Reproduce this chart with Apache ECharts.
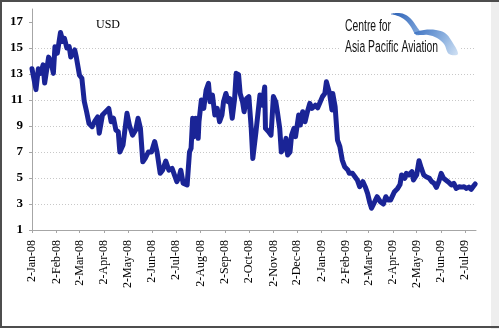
<!DOCTYPE html>
<html>
<head>
<meta charset="utf-8">
<script src="https://cdn.jsdelivr.net/npm/echarts@6/dist/echarts.min.js"></script>
<style>
  html, body { margin: 0; padding: 0; background: #ffffff; }
  #chart { width: 499px; height: 329px; }
</style>
</head>
<body>
<div id="chart"></div>
<script>
// Trading dates and prices (USD)
const dates = [
  '2008-01-02','2008-01-04','2008-01-07','2008-01-10','2008-01-13','2008-01-16','2008-01-18','2008-01-20',
  '2008-01-23','2008-01-26','2008-01-29','2008-01-31','2008-02-03','2008-02-07','2008-02-10','2008-02-12',
  '2008-02-15','2008-02-18','2008-02-20','2008-02-25','2008-02-27','2008-03-02','2008-03-05','2008-03-08',
  '2008-03-11','2008-03-14','2008-03-18','2008-03-21','2008-03-25','2008-03-27','2008-03-31','2008-04-04',
  '2008-04-08','2008-04-11','2008-04-14','2008-04-17','2008-04-20','2008-04-22','2008-04-26','2008-05-01',
  '2008-05-04','2008-05-08','2008-05-12','2008-05-15','2008-05-18','2008-05-21','2008-05-24','2008-05-28',
  '2008-06-01','2008-06-05','2008-06-08','2008-06-12','2008-06-15','2008-06-19','2008-06-23','2008-06-27',
  '2008-07-03','2008-07-06','2008-07-08','2008-07-11','2008-07-16','2008-07-19','2008-07-21','2008-07-23',
  '2008-07-25','2008-07-27','2008-07-30','2008-07-31','2008-08-03','2008-08-06','2008-08-09','2008-08-12',
  '2008-08-14','2008-08-17','2008-08-20','2008-08-23','2008-08-26','2008-08-29','2008-08-31','2008-09-03',
  '2008-09-06','2008-09-08','2008-09-11','2008-09-14','2008-09-16','2008-09-19','2008-09-21','2008-09-24',
  '2008-09-26','2008-09-29','2008-10-02','2008-10-05','2008-10-07','2008-10-11','2008-10-13','2008-10-16',
  '2008-10-19','2008-10-22','2008-10-23','2008-10-27','2008-10-30','2008-11-02','2008-11-05','2008-11-07',
  '2008-11-10','2008-11-12','2008-11-15','2008-11-18','2008-11-20','2008-11-23','2008-11-25','2008-11-28',
  '2008-11-30','2008-12-04','2008-12-06','2008-12-09','2008-12-12','2008-12-15','2008-12-18','2008-12-21',
  '2008-12-25','2008-12-28','2008-12-31','2009-01-03','2009-01-06','2009-01-08','2009-01-12','2009-01-15',
  '2009-01-16','2009-01-19','2009-01-22','2009-01-25','2009-01-28','2009-01-31','2009-02-04','2009-02-06',
  '2009-02-10','2009-02-13','2009-02-16','2009-02-19','2009-02-23','2009-02-26','2009-03-01','2009-03-04',
  '2009-03-06','2009-03-09','2009-03-13','2009-03-17','2009-03-21','2009-03-24','2009-03-27','2009-03-30',
  '2009-04-04','2009-04-08','2009-04-11','2009-04-13','2009-04-17','2009-04-19','2009-04-22','2009-04-26',
  '2009-04-28','2009-05-02','2009-05-05','2009-05-08','2009-05-11','2009-05-14','2009-05-18','2009-05-21',
  '2009-05-24','2009-05-27','2009-05-30','2009-06-02','2009-06-05','2009-06-09','2009-06-12','2009-06-15',
  '2009-06-18','2009-06-21','2009-06-25','2009-06-28','2009-07-01','2009-07-04','2009-07-07','2009-07-10',
  '2009-07-13','2009-07-15'
];
const prices = [
  13.4, 13.3, 11.8, 13.4, 13.05, 13.7, 12.3, 12.3,
  14.3, 13.95, 13.05, 15.1, 14.6, 16.2, 15.5, 15.75,
  15.0, 15.1, 14.3, 14.85, 14.3, 12.9, 12.67, 10.9,
  10.1, 9.2, 8.95, 9.33, 9.7, 8.45, 9.85, 10.1,
  10.35, 9.33, 9.6, 8.7, 8.56, 7.0, 7.54, 9.98,
  9.08, 8.3, 8.7, 9.6, 8.82, 6.25, 6.51, 7.0,
  7.0, 7.8, 7.0, 5.36, 5.6, 6.3, 5.6, 5.74,
  4.72, 5.1, 5.6, 4.6, 4.46, 7.0, 7.28, 9.6,
  8.18, 9.6, 8.05, 9.35, 11.0, 10.36, 11.77, 12.28,
  10.87, 11.38, 9.85, 10.36, 9.33, 9.85, 10.87, 11.5,
  10.87, 11.1, 9.6, 11.1, 13.05, 12.95, 11.5, 10.87,
  10.1, 11.1, 11.26, 8.82, 6.5, 8.56, 8.7, 11.38,
  10.6, 12.0, 8.82, 8.56, 8.3, 11.26, 10.87, 10.1,
  8.82, 7.0, 7.28, 8.05, 6.77, 7.0, 8.3, 8.82,
  8.18, 9.85, 9.08, 10.1, 9.33, 10.1, 10.74, 10.36,
  10.6, 10.4, 10.82, 11.26, 11.5, 12.4, 11.5, 10.23,
  11.5, 10.49, 7.92, 7.41, 6.38, 5.87, 5.62, 5.36,
  5.36, 5.1, 4.85, 4.33, 4.72, 4.33, 3.82, 3.05,
  2.67, 3.05, 3.56, 3.18, 3.0, 3.56, 3.3, 3.3,
  3.95, 4.2, 4.5, 5.23, 4.98, 5.36, 5.23, 5.49,
  4.85, 5.23, 6.33, 5.74, 5.23, 5.1, 4.98, 4.72,
  4.59, 4.28, 4.72, 5.36, 4.98, 4.79, 4.64, 4.46,
  4.59, 4.2, 4.33, 4.3, 4.33, 4.2, 4.3, 4.13,
  4.38, 4.54
];

// Monthly ticks on the date axis
const tickDates = [
  '2008-01-02','2008-02-02','2008-03-02','2008-04-02','2008-05-02','2008-06-02','2008-07-02',
  '2008-08-02','2008-09-02','2008-10-02','2008-11-02','2008-12-02','2009-01-02','2009-02-02',
  '2009-03-02','2009-04-02','2009-05-02','2009-06-02','2009-07-02'
];
const tickLabels = [
  '2-Jan-08','2-Feb-08','2-Mar-08','2-Apr-08','2-May-08','2-Jun-08','2-Jul-08',
  '2-Aug-08','2-Sep-08','2-Oct-08','2-Nov-08','2-Dec-08','2-Jan-09','2-Feb-09',
  '2-Mar-09','2-Apr-09','2-May-09','2-Jun-09','2-Jul-09'
];
const yTicks = [1, 3, 5, 7, 9, 11, 13, 15, 17];

const toTime = s => +new Date(s + 'T00:00:00');
const tickTimes = tickDates.map(toTime);
const seriesData = dates.map((d, i) => [toTime(d), prices[i]]);

const chart = echarts.init(document.getElementById('chart'), null, { renderer: 'canvas' });

const serif = "'Liberation Serif', 'Times New Roman', serif";
const logoFont = "14px 'Liberation Sans', Arial, sans-serif";

chart.setOption({
  animation: false,
  backgroundColor: '#ffffff',
  grid: { left: 32, right: 23, top: 9, bottom: 99, containLabel: false },
  xAxis: {
    type: 'value',
    min: toTime('2008-01-02'),
    max: toTime('2009-07-16'),
    axisLine: { show: true, lineStyle: { color: '#a6a6a6', width: 1 } },
    axisTick: { show: true, length: 3, customValues: tickTimes, lineStyle: { color: '#a6a6a6' } },
    axisLabel: {
      customValues: tickTimes,
      rotate: 90,
      margin: 10,
      fontFamily: serif,
      fontSize: 12,
      color: '#000',
      hideOverlap: false,
      formatter: function (val) {
        let idx = -1;
        for (let i = 0; i < tickTimes.length; i++) {
          if (Math.abs(tickTimes[i] - val) < 3600000) { idx = i; break; }
        }
        return idx >= 0 ? tickLabels[idx] : '';
      }
    },
    splitLine: { show: false }
  },
  yAxis: {
    type: 'value',
    min: 1,
    max: 18,
    interval: 2,
    axisLine: { show: true, lineStyle: { color: '#a6a6a6', width: 1 } },
    axisTick: { show: true, length: 3, customValues: yTicks, lineStyle: { color: '#a6a6a6' } },
    axisLabel: {
      customValues: yTicks,
      margin: 9,
      fontFamily: serif,
      fontSize: 13,
      fontWeight: 'bold',
      color: '#000'
    },
    splitLine: {
      show: true,
      showMinLine: false,
      showMaxLine: false,
      lineStyle: { color: '#c8c8c8', type: [1, 2], width: 1 }
    }
  },
  graphic: [
    // light strip at the right edge
    {
      type: 'rect', z: 99, silent: true,
      shape: { x: 491, y: 0, width: 8, height: 329 },
      style: { fill: '#eeeeee' }
    },
    // outer frame: top, left, bottom
    {
      type: 'polyline', z: 100, silent: true,
      shape: { points: [[499, 1], [1, 1], [1, 327], [499, 327]] },
      style: { fill: null, stroke: '#4d4d4d', lineWidth: 2 }
    },
    // currency caption
    {
      type: 'text', x: 96, y: 19, z: 20,
      style: { text: 'USD', font: "12px 'Liberation Serif', serif", fill: '#000' }
    },
    // logo backdrop
    {
      type: 'rect', z: 15, silent: true,
      shape: { x: 341, y: 12, width: 118, height: 44 },
      style: { fill: '#ffffff' }
    },
    // logo swoosh, upper wing
    {
      type: 'polygon', z: 16, silent: true,
      shape: {
        smooth: 0.35,
        points: [
          [391, 14], [399, 13], [406, 15], [412, 20], [417, 27], [421, 34],
          [416, 35], [411, 27], [405, 20], [398, 16]
        ]
      },
      style: {
        fill: new echarts.graphic.LinearGradient(0, 0, 1, 1, [
          { offset: 0, color: '#2a5fb5' },
          { offset: 1, color: '#86addf' }
        ])
      }
    },
    // logo swoosh, lower wing
    {
      type: 'polygon', z: 16, silent: true,
      shape: {
        smooth: 0.35,
        points: [
          [414, 33], [424, 30], [436, 30], [445, 33], [451, 40], [458, 54],
          [449, 54], [444, 44], [437, 38], [428, 35], [419, 35]
        ]
      },
      style: {
        fill: new echarts.graphic.LinearGradient(0, 0, 1, 1, [
          { offset: 0, color: '#3d72c2' },
          { offset: 0.6, color: '#8fb3e0' },
          { offset: 1, color: '#d2e2f4' }
        ])
      }
    },
    // logo wording
    {
      type: 'text', x: 345, y: 19, z: 17, scaleX: 0.74, scaleY: 1.12,
      style: { text: 'Centre for', font: logoFont, fill: '#111111' }
    },
    {
      type: 'text', x: 345, y: 40, z: 17, scaleX: 0.74, scaleY: 1.12,
      style: { text: 'Asia Pacific Aviation', font: logoFont, fill: '#111111' }
    }
  ],
  series: [{
    type: 'line',
    data: seriesData,
    showSymbol: false,
    symbol: 'none',
    z: 30,
    lineStyle: { color: '#1a2496', width: 5, join: 'round', cap: 'round' }
  }]
});
</script>
</body>
</html>
